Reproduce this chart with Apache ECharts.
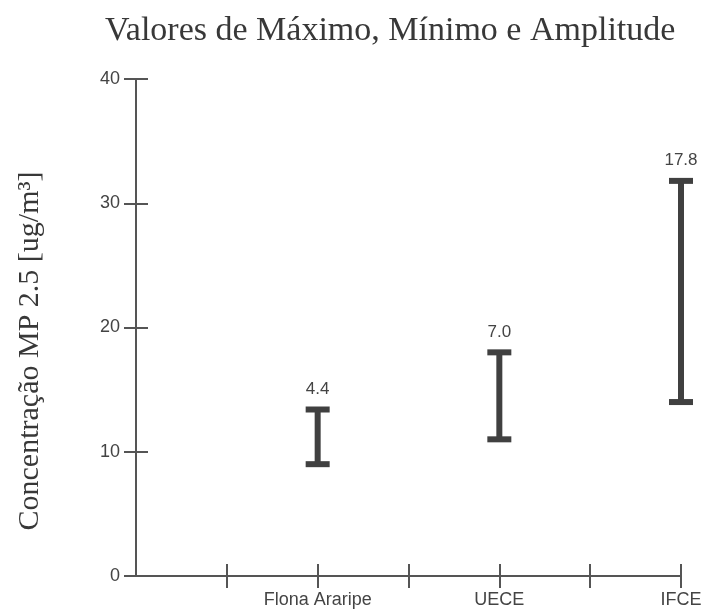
<!DOCTYPE html>
<html>
<head>
<meta charset="utf-8">
<script src="https://cdn.jsdelivr.net/npm/echarts@6/dist/echarts.min.js"></script>
<style>
  html, body { margin: 0; padding: 0; background: #fff; }
  #chart { width: 705px; height: 610px; }
</style>
</head>
<body>
<div id="chart"></div>
<script>
// dados
const sites = ['Flona Araripe', 'UECE', 'IFCE'];
const minValues = [9.0, 11.0, 14.0];
const maxValues = [13.4, 18.0, 31.8];
const yMin = 0, yMax = 40, yStep = 10;

// eixo x: cada local fica em um slot par, ticks em todos os slots menos o 0
const slots = ['s0'];
sites.forEach(function (s, i) { slots.push('m' + i); slots.push(s); });
const siteSlot = sites.map(function (s, i) { return 2 * (i + 1); });

const seriesData = sites.map(function (s, i) {
  return [siteSlot[i], minValues[i], maxValues[i], maxValues[i] - minValues[i]];
});

const axisColor = '#555';
const barColor = '#404040';
const sansFont = 'Liberation Sans';

function xAxisBase(inside) {
  return {
    type: 'category',
    data: slots,
    boundaryGap: false,
    position: 'bottom',
    axisLine: { show: !inside, lineStyle: { color: axisColor, width: 2 } },
    axisTick: {
      show: true, inside: inside, length: 12,
      interval: function (index) { return index > 0; },
      lineStyle: { color: axisColor, width: 2 }
    },
    axisLabel: {
      show: !inside, interval: 0, margin: 15,
      fontFamily: sansFont, fontSize: 18, color: '#444',
      formatter: function (val) { return sites.indexOf(val) >= 0 ? val : ''; }
    },
    splitLine: { show: false }
  };
}

function yAxisBase(inside) {
  return {
    type: 'value',
    min: yMin, max: yMax, interval: yStep,
    position: 'left',
    axisLine: { show: !inside, lineStyle: { color: axisColor, width: 2 } },
    axisTick: { show: true, inside: inside, length: 12, lineStyle: { color: axisColor, width: 2 } },
    axisLabel: { show: !inside, margin: 16, fontFamily: sansFont, fontSize: 18, color: '#444' },
    splitLine: { show: false }
  };
}

const chart = echarts.init(document.getElementById('chart'));
chart.setOption({
  animation: false,
  backgroundColor: '#fff',
  title: {
    text: 'Valores de Máximo, Mínimo e Amplitude',
    left: 100, top: 9,
    textStyle: { fontFamily: 'Liberation Serif', fontSize: 34, fontWeight: 'normal', color: '#383838' }
  },
  graphic: [{
    type: 'text',
    x: 30, y: 351,
    rotation: Math.PI / 2,
    style: {
      text: 'Concentração MP 2.5 [ug/m³]',
      font: '30px "Liberation Serif"',
      fill: '#383838',
      align: 'center',
      verticalAlign: 'middle'
    }
  }],
  grid: { left: 136, right: 24, top: 79, bottom: 34 },
  xAxis: [xAxisBase(false), xAxisBase(true)],
  yAxis: [yAxisBase(false), yAxisBase(true)],
  series: [{
    type: 'custom',
    xAxisIndex: 0,
    yAxisIndex: 0,
    data: seriesData,
    renderItem: function (params, api) {
      const lo = api.coord([api.value(0), api.value(1)]);
      const hi = api.coord([api.value(0), api.value(2)]);
      const half = 12;
      const st = { stroke: barColor, lineWidth: 6 };
      return {
        type: 'group',
        children: [
          { type: 'line', shape: { x1: lo[0], y1: lo[1], x2: hi[0], y2: hi[1] }, style: st },
          { type: 'line', shape: { x1: lo[0] - half, y1: lo[1], x2: lo[0] + half, y2: lo[1] }, style: st },
          { type: 'line', shape: { x1: hi[0] - half, y1: hi[1], x2: hi[0] + half, y2: hi[1] }, style: st },
          {
            type: 'text',
            x: hi[0], y: hi[1] - 12,
            style: {
              text: api.value(3).toFixed(1),
              font: '17px "' + sansFont + '"',
              fill: '#444',
              align: 'center',
              verticalAlign: 'bottom'
            }
          }
        ]
      };
    }
  }]
});
</script>
</body>
</html>
